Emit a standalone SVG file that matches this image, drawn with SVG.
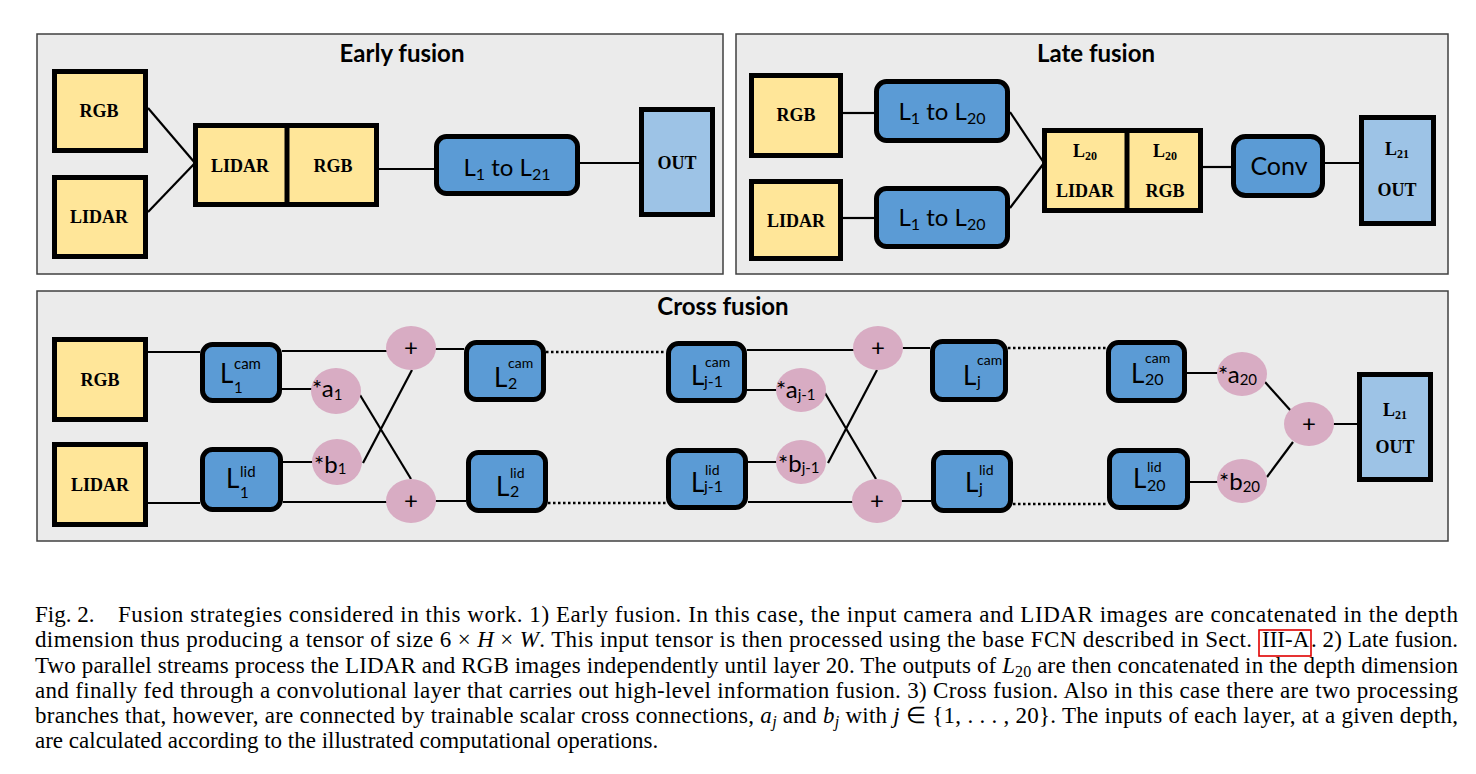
<svg xmlns="http://www.w3.org/2000/svg" width="1476" height="774" viewBox="0 0 1476 774">
<style>
.bg{fill:#ffffff}
.panel{fill:#ebebeb;stroke:#404040;stroke-width:1.5}
.title{font-family:Lato,'Liberation Sans',sans-serif;font-weight:bold;font-size:24px;text-anchor:middle;fill:#000}
.in{fill:#ffe699;stroke:#000;stroke-width:5}
.blk{fill:#5b9bd5;stroke:#000;stroke-width:5}
.out{fill:#9dc3e6;stroke:#000;stroke-width:5}
.op{fill:#d8acc3}
.tb{font-family:'Liberation Serif','Times New Roman',serif;font-weight:bold;font-size:18px;text-anchor:middle;fill:#000}
.sans{font-family:Lato,'Liberation Sans',sans-serif;fill:#000}
.mid{text-anchor:middle}
.ln{stroke:#000;stroke-width:2.2;fill:none}
.dot{stroke:#000;stroke-width:2.5;stroke-dasharray:2.5 2.5;fill:none}
.cap{font-family:'Liberation Serif','Times New Roman',serif;font-size:23px;fill:#000}
.it{font-style:italic}
</style>
<rect class="bg" x="0" y="0" width="1476" height="774"/>

<g id="panels">
<rect class="panel" x="37" y="34" width="686" height="240"/>
<rect class="panel" x="736" y="34" width="712" height="240"/>
<rect class="panel" x="37" y="291" width="1411" height="250"/>
<text class="title" x="402" y="62">Early fusion</text>
<text class="title" x="1096" y="62">Late fusion</text>
<text class="title" x="723" y="315">Cross fusion</text>
</g>

<g id="connectors">
<line class="ln" x1="148" y1="108" x2="195" y2="163"/>
<line class="ln" x1="148" y1="212" x2="195" y2="163"/>
<line class="ln" x1="379" y1="169" x2="434" y2="169"/>
<line class="ln" x1="580" y1="163" x2="639" y2="163"/>

<line class="ln" x1="843" y1="113" x2="874" y2="113"/>
<line class="ln" x1="843" y1="218" x2="874" y2="218"/>
<line class="ln" x1="1010" y1="112" x2="1044" y2="163"/>
<line class="ln" x1="1010" y1="208" x2="1044" y2="163"/>
<line class="ln" x1="1203" y1="167" x2="1231" y2="167"/>
<line class="ln" x1="1325" y1="163" x2="1359" y2="163"/>

<line class="ln" x1="148" y1="352" x2="200" y2="352"/>
<line class="ln" x1="148" y1="503" x2="200" y2="503"/>
<line class="ln" x1="282" y1="351" x2="411" y2="351"/>
<line class="ln" x1="282" y1="389" x2="336" y2="389"/>
<line class="ln" x1="283" y1="462" x2="337" y2="462"/>
<line class="ln" x1="283" y1="502" x2="411" y2="502"/>
<line class="ln" x1="360" y1="395" x2="411" y2="479"/>
<line class="ln" x1="363" y1="463" x2="412" y2="370"/>
<line class="ln" x1="411" y1="349" x2="464" y2="349"/>
<line class="ln" x1="411" y1="501" x2="466" y2="501"/>
<line class="dot" x1="546" y1="352" x2="666" y2="352"/>
<line class="dot" x1="548" y1="503" x2="666" y2="503"/>

<line class="ln" x1="747" y1="350" x2="878" y2="350"/>
<line class="ln" x1="747" y1="390" x2="801" y2="390"/>
<line class="ln" x1="748" y1="462" x2="801" y2="462"/>
<line class="ln" x1="748" y1="502" x2="877" y2="502"/>
<line class="ln" x1="825" y1="393" x2="876" y2="479"/>
<line class="ln" x1="828" y1="463" x2="877" y2="370"/>
<line class="ln" x1="878" y1="348" x2="930" y2="348"/>
<line class="ln" x1="877" y1="501" x2="931" y2="501"/>
<line class="dot" x1="1008" y1="348" x2="1106" y2="348"/>
<line class="dot" x1="1013" y1="504" x2="1107" y2="504"/>

<line class="ln" x1="1187" y1="373" x2="1242" y2="373"/>
<line class="ln" x1="1190" y1="482" x2="1242" y2="482"/>
<line class="ln" x1="1265" y1="382" x2="1291" y2="411"/>
<line class="ln" x1="1267" y1="477" x2="1293" y2="442"/>
<line class="ln" x1="1309" y1="424" x2="1357" y2="424"/>
</g>

<!-- Early fusion nodes -->
<g id="ef-rgb"><rect class="in" x="54.5" y="71.5" width="91" height="79"/><text class="tb" x="99" y="117">RGB</text></g>
<g id="ef-lidar"><rect class="in" x="54.5" y="177.5" width="91" height="79"/><text class="tb" x="99" y="223">LIDAR</text></g>
<g id="ef-concat"><rect class="in" x="195.5" y="125.5" width="181" height="79"/><line x1="287" y1="125" x2="287" y2="205" stroke="#000" stroke-width="5"/><text class="tb" x="240" y="172">LIDAR</text><text class="tb" x="333" y="172">RGB</text></g>
<g id="ef-layers"><rect class="blk" x="436.5" y="136.5" width="141" height="57" rx="10"/><text class="sans mid" font-size="24" x="507" y="176">L<tspan font-size="16" dy="4">1</tspan><tspan dy="-4"> to L</tspan><tspan font-size="16" dy="4">21</tspan></text></g>
<g id="ef-out"><rect class="out" x="641.5" y="109.5" width="71" height="105"/><text class="tb" x="677" y="169">OUT</text></g>

<!-- Late fusion nodes -->
<g id="lf-rgb"><rect class="in" x="751.5" y="75.5" width="89" height="80"/><text class="tb" x="796" y="121">RGB</text></g>
<g id="lf-lidar"><rect class="in" x="751.5" y="181.5" width="89" height="77"/><text class="tb" x="796" y="227">LIDAR</text></g>
<g id="lf-layers-rgb"><rect class="blk" x="876.5" y="81.5" width="131" height="59" rx="10"/><text class="sans mid" font-size="24" x="942" y="120">L<tspan font-size="16" dy="4">1</tspan><tspan dy="-4"> to L</tspan><tspan font-size="16" dy="4">20</tspan></text></g>
<g id="lf-layers-lidar"><rect class="blk" x="876.5" y="188.5" width="131" height="58" rx="10"/><text class="sans mid" font-size="24" x="942" y="226">L<tspan font-size="16" dy="4">1</tspan><tspan dy="-4"> to L</tspan><tspan font-size="16" dy="4">20</tspan></text></g>
<g id="lf-concat"><rect class="in" x="1044.5" y="130.5" width="156" height="80"/><line x1="1127" y1="130" x2="1127" y2="211" stroke="#000" stroke-width="5"/>
<text class="tb" font-size="17" x="1085" y="157">L<tspan font-size="12" dy="3">20</tspan></text><text class="tb" x="1085" y="197">LIDAR</text>
<text class="tb" font-size="17" x="1165" y="157">L<tspan font-size="12" dy="3">20</tspan></text><text class="tb" x="1165" y="197">RGB</text></g>
<g id="lf-conv"><rect class="blk" x="1233.5" y="136.5" width="89" height="59" rx="12"/><text class="sans mid" font-size="25" x="1279" y="175">Conv</text></g>
<g id="lf-out"><rect class="out" x="1361.5" y="117.5" width="72" height="106"/><text class="tb" font-size="17" x="1397" y="155">L<tspan font-size="12" dy="3">21</tspan></text><text class="tb" x="1397" y="196">OUT</text></g>

<!-- Cross fusion nodes -->
<g id="cf-rgb"><rect class="in" x="54.5" y="339.5" width="91" height="80"/><text class="tb" x="100" y="386">RGB</text></g>
<g id="cf-lidar"><rect class="in" x="54.5" y="444.5" width="91" height="80"/><text class="tb" x="100" y="491">LIDAR</text></g>

<g id="cf-l1cam"><rect class="blk" x="202.5" y="344.5" width="77" height="56" rx="10"/><text class="sans" font-size="26" x="220" y="383">L</text><text class="sans" font-size="15" x="234" y="369">cam</text><text class="sans" font-size="15" x="234" y="393">1</text></g>
<g id="cf-l1lid"><rect class="blk" x="202.5" y="449.5" width="78" height="60" rx="10"/><text class="sans" font-size="26" x="226" y="488">L</text><text class="sans" font-size="15" x="240" y="477">lid</text><text class="sans" font-size="15" x="240" y="498">1</text></g>

<g id="cf-a1"><ellipse class="op" cx="336" cy="391" rx="25" ry="23"/><text class="sans" font-size="24" x="312" y="397">*a<tspan font-size="15" dy="3">1</tspan></text></g>
<g id="cf-b1"><ellipse class="op" cx="337" cy="462" rx="25" ry="23"/><text class="sans" font-size="24" x="314" y="473">*b<tspan font-size="15" dy="1">1</tspan></text></g>
<g id="cf-sum1cam"><ellipse class="op" cx="411" cy="348" rx="25" ry="22"/><text class="sans mid" font-size="24" x="411" y="356">+</text></g>
<g id="cf-sum1lid"><ellipse class="op" cx="411" cy="501" rx="25" ry="22"/><text class="sans mid" font-size="24" x="411" y="509">+</text></g>

<g id="cf-l2cam"><rect class="blk" x="466.5" y="342.5" width="77" height="57" rx="10"/><text class="sans" font-size="26" x="494" y="387">L</text><text class="sans" font-size="14" x="508" y="368">cam</text><text class="sans" font-size="16" x="508" y="389">2</text></g>
<g id="cf-l2lid"><rect class="blk" x="468.5" y="452.5" width="77" height="58" rx="10"/><text class="sans" font-size="26" x="496" y="496">L</text><text class="sans" font-size="14" x="510" y="478">lid</text><text class="sans" font-size="16" x="510" y="497">2</text></g>

<g id="cf-ljm1cam"><rect class="blk" x="668.5" y="343.5" width="76" height="57" rx="10"/><text class="sans" font-size="26" x="691" y="385">L</text><text class="sans" font-size="14" x="705" y="367">cam</text><text class="sans" font-size="16" x="704" y="387">j-1</text></g>
<g id="cf-ljm1lid"><rect class="blk" x="668.5" y="450.5" width="77" height="57" rx="10"/><text class="sans" font-size="26" x="691" y="492">L</text><text class="sans" font-size="14" x="705" y="475">lid</text><text class="sans" font-size="16" x="704" y="492">j-1</text></g>

<g id="cf-ajm1"><ellipse class="op" cx="801" cy="390" rx="25" ry="22"/><text class="sans" font-size="24" x="776" y="398">*a<tspan font-size="15" dy="2">j-1</tspan></text></g>
<g id="cf-bjm1"><ellipse class="op" cx="801" cy="462" rx="25" ry="22"/><text class="sans" font-size="24" x="778" y="472">*b<tspan font-size="15" dy="1">j-1</tspan></text></g>
<g id="cf-sumjcam"><ellipse class="op" cx="878" cy="348" rx="25" ry="22"/><text class="sans mid" font-size="24" x="878" y="356">+</text></g>
<g id="cf-sumjlid"><ellipse class="op" cx="877" cy="501" rx="25" ry="22"/><text class="sans mid" font-size="24" x="877" y="509">+</text></g>

<g id="cf-ljcam"><rect class="blk" x="932.5" y="341.5" width="73" height="58" rx="10"/><text class="sans" font-size="26" x="963" y="385">L</text><text class="sans" font-size="14" x="977" y="365">cam</text><text class="sans" font-size="16" x="977" y="387">j</text></g>
<g id="cf-ljlid"><rect class="blk" x="933.5" y="452.5" width="77" height="58" rx="10"/><text class="sans" font-size="26" x="965" y="492">L</text><text class="sans" font-size="14" x="979" y="475">lid</text><text class="sans" font-size="16" x="979" y="494">j</text></g>

<g id="cf-l20cam"><rect class="blk" x="1108.5" y="342.5" width="76" height="58" rx="10"/><text class="sans" font-size="26" x="1131" y="383">L</text><text class="sans" font-size="14" x="1145" y="363">cam</text><text class="sans" font-size="16" x="1145" y="385">20</text></g>
<g id="cf-l20lid"><rect class="blk" x="1109.5" y="450.5" width="78" height="57" rx="10"/><text class="sans" font-size="26" x="1133" y="488">L</text><text class="sans" font-size="14" x="1147" y="472">lid</text><text class="sans" font-size="16" x="1147" y="491">20</text></g>

<g id="cf-a20"><ellipse class="op" cx="1242" cy="374" rx="25" ry="22"/><text class="sans" font-size="24" x="1218" y="383">*a<tspan font-size="15" dy="2">20</tspan></text></g>
<g id="cf-b20"><ellipse class="op" cx="1242" cy="481" rx="25" ry="22"/><text class="sans" font-size="24" x="1219" y="490">*b<tspan font-size="15" dy="2">20</tspan></text></g>
<g id="cf-sumout"><ellipse class="op" cx="1309" cy="424" rx="25" ry="22"/><text class="sans mid" font-size="24" x="1309" y="432">+</text></g>
<g id="cf-out"><rect class="out" x="1359.5" y="374.5" width="71" height="105"/><text class="tb" font-size="17" x="1395" y="416">L<tspan font-size="12" dy="3">21</tspan></text><text class="tb" x="1395" y="453">OUT</text></g>

<g id="caption">
<text class="cap" x="35" y="622">Fig. 2.</text>
<text class="cap" x="118" y="622" textLength="1340" lengthAdjust="spacing">Fusion strategies considered in this work. 1) Early fusion. In this case, the input camera and LIDAR images are concatenated in the depth</text>
<text class="cap" x="35" y="647" textLength="1217" lengthAdjust="spacing">dimension thus producing a tensor of size 6 × <tspan class="it">H</tspan> × <tspan class="it">W</tspan>. This input tensor is then processed using the base FCN described in Sect.</text>
<text class="cap" x="1262" y="647">III-A</text>
<rect x="1259" y="630" width="52" height="26" fill="none" stroke="#e00000" stroke-width="1.6"/>
<text class="cap" x="1311" y="647" textLength="147" lengthAdjust="spacing">. 2) Late fusion.</text>
<text class="cap" x="35" y="672.5" textLength="1423" lengthAdjust="spacing">Two parallel streams process the LIDAR and RGB images independently until layer 20. The outputs of <tspan class="it">L</tspan><tspan font-size="16" dy="4">20</tspan><tspan dy="-4"> are then concatenated in the depth dimension</tspan></text>
<text class="cap" x="35" y="697.5" textLength="1423" lengthAdjust="spacing">and finally fed through a convolutional layer that carries out high-level information fusion. 3) Cross fusion. Also in this case there are two processing</text>
<text class="cap" x="35" y="723" textLength="1423" lengthAdjust="spacing">branches that, however, are connected by trainable scalar cross connections, <tspan class="it">a</tspan><tspan class="it" font-size="16" dy="4">j</tspan><tspan dy="-4"> and </tspan><tspan class="it">b</tspan><tspan class="it" font-size="16" dy="4">j</tspan><tspan dy="-4"> with </tspan><tspan class="it">j</tspan> ∈ {1, . . . , 20}. The inputs of each layer, at a given depth,</text>
<text class="cap" x="35" y="748">are calculated according to the illustrated computational operations.</text>
</g>
</svg>
